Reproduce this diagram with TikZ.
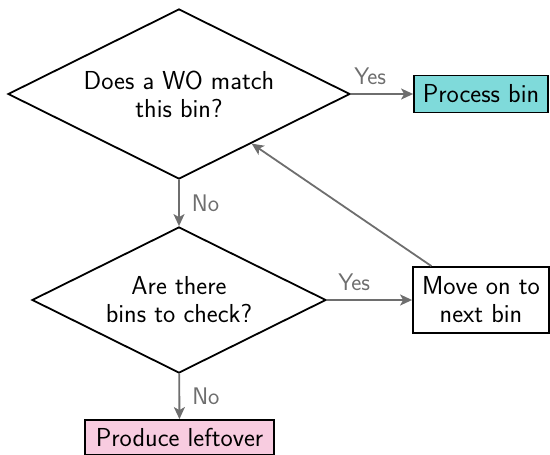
\documentclass[tikz,border=0pt]{standalone}
\usetikzlibrary{shapes.geometric,arrows.meta}
\definecolor{flowgray}{RGB}{110,110,110}
\definecolor{procfill}{RGB}{127,218,218}
\definecolor{endfill}{RGB}{248,204,224}
\begin{document}
\begin{tikzpicture}[x=1pt,y=-1pt,
  font=\sffamily\fontsize{26}{28}\selectfont,
  decision/.style={diamond,aspect=2,draw=black,line width=1.8pt,inner sep=0pt,align=center},
  stepbox/.style={rectangle,draw=black,line width=1.8pt,inner sep=0pt,align=center},
  flow/.style={draw=flowgray,line width=1.8pt,-{Stealth[length=12pt,width=11pt,inset=3pt]}},
  lbl/.style={text=flowgray,inner sep=0pt,font=\sffamily\fontsize{24}{28}\selectfont}]
\useasboundingbox (0,0) rectangle (550,455);
% decisions
\node[decision,minimum width=342pt,minimum height=170pt] (match) at (179,94) {Does a WO match\\this bin?};
\node[decision,minimum width=294pt,minimum height=146pt] (more) at (179,300) {Are there\\bins to check?};
% actions
\node[stepbox,fill=procfill,minimum width=134pt,minimum height=37pt] (process) at (481,94) {Process bin};
\node[stepbox,minimum width=136pt,minimum height=66pt] (next) at (481,300) {Move on to\\next bin};
\node[stepbox,fill=endfill,minimum width=189pt,minimum height=35pt] (leftover) at (179.5,437.5) {Produce leftover};
% connectors
\draw[flow] (match) -- node[lbl,above=8pt,pos=0.31] {Yes} (process);
\draw[flow] (match) -- node[lbl,right=12pt] {No} (more);
\draw[flow] (more) -- node[lbl,above=8pt,pos=0.32] {Yes} (next);
\draw[flow] (more) -- node[lbl,right=12pt] {No} (leftover);
\draw[flow] (next) -- (match);
\end{tikzpicture}
\end{document}
